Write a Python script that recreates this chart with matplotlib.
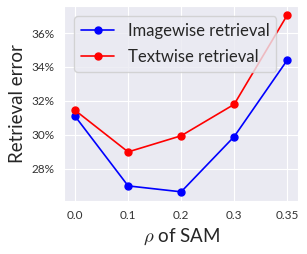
import matplotlib
matplotlib.use('Agg')
import matplotlib.pyplot as plt
import seaborn as sns
from matplotlib.ticker import FuncFormatter

sns.set_style('darkgrid')
plt.rcParams['font.family'] = ['Lato', 'DejaVu Sans']
plt.rcParams['mathtext.fontset'] = 'cm'

# data
rho_labels = ['0.0', '0.1', '0.2', '0.3', '0.35']
imagewise = [31.1, 27.0, 26.65, 29.9, 34.4]
textwise = [31.45, 29.0, 29.95, 31.8, 37.05]

x = range(len(rho_labels))

fig, ax = plt.subplots(figsize=(3.07, 2.54), dpi=100)
ax.plot(x, imagewise, 'o-', color='blue', lw=1.2, ms=5, label='Imagewise retrieval')
ax.plot(x, textwise, 'o-', color='red', lw=1.2, ms=5, label='Textwise retrieval')

ax.set_xticks(list(x))
ax.set_xticklabels(rho_labels)
ax.set_yticks([28, 30, 32, 34, 36])
ax.yaxis.set_major_formatter(FuncFormatter(lambda v, p: '%d%%' % v))
ax.tick_params(labelsize=8.5, colors='#333333')
ax.set_xlabel(r'$\rho$ of SAM', fontsize=13.5)
ax.set_ylabel('Retrieval error', fontsize=13.5)
ax.legend(loc='upper left', fontsize=12, handlelength=2.0, labelspacing=0.6,
          borderaxespad=0.6)

fig.subplots_adjust(left=0.21, right=0.97, bottom=0.21, top=0.975)
fig.savefig('out.png')
